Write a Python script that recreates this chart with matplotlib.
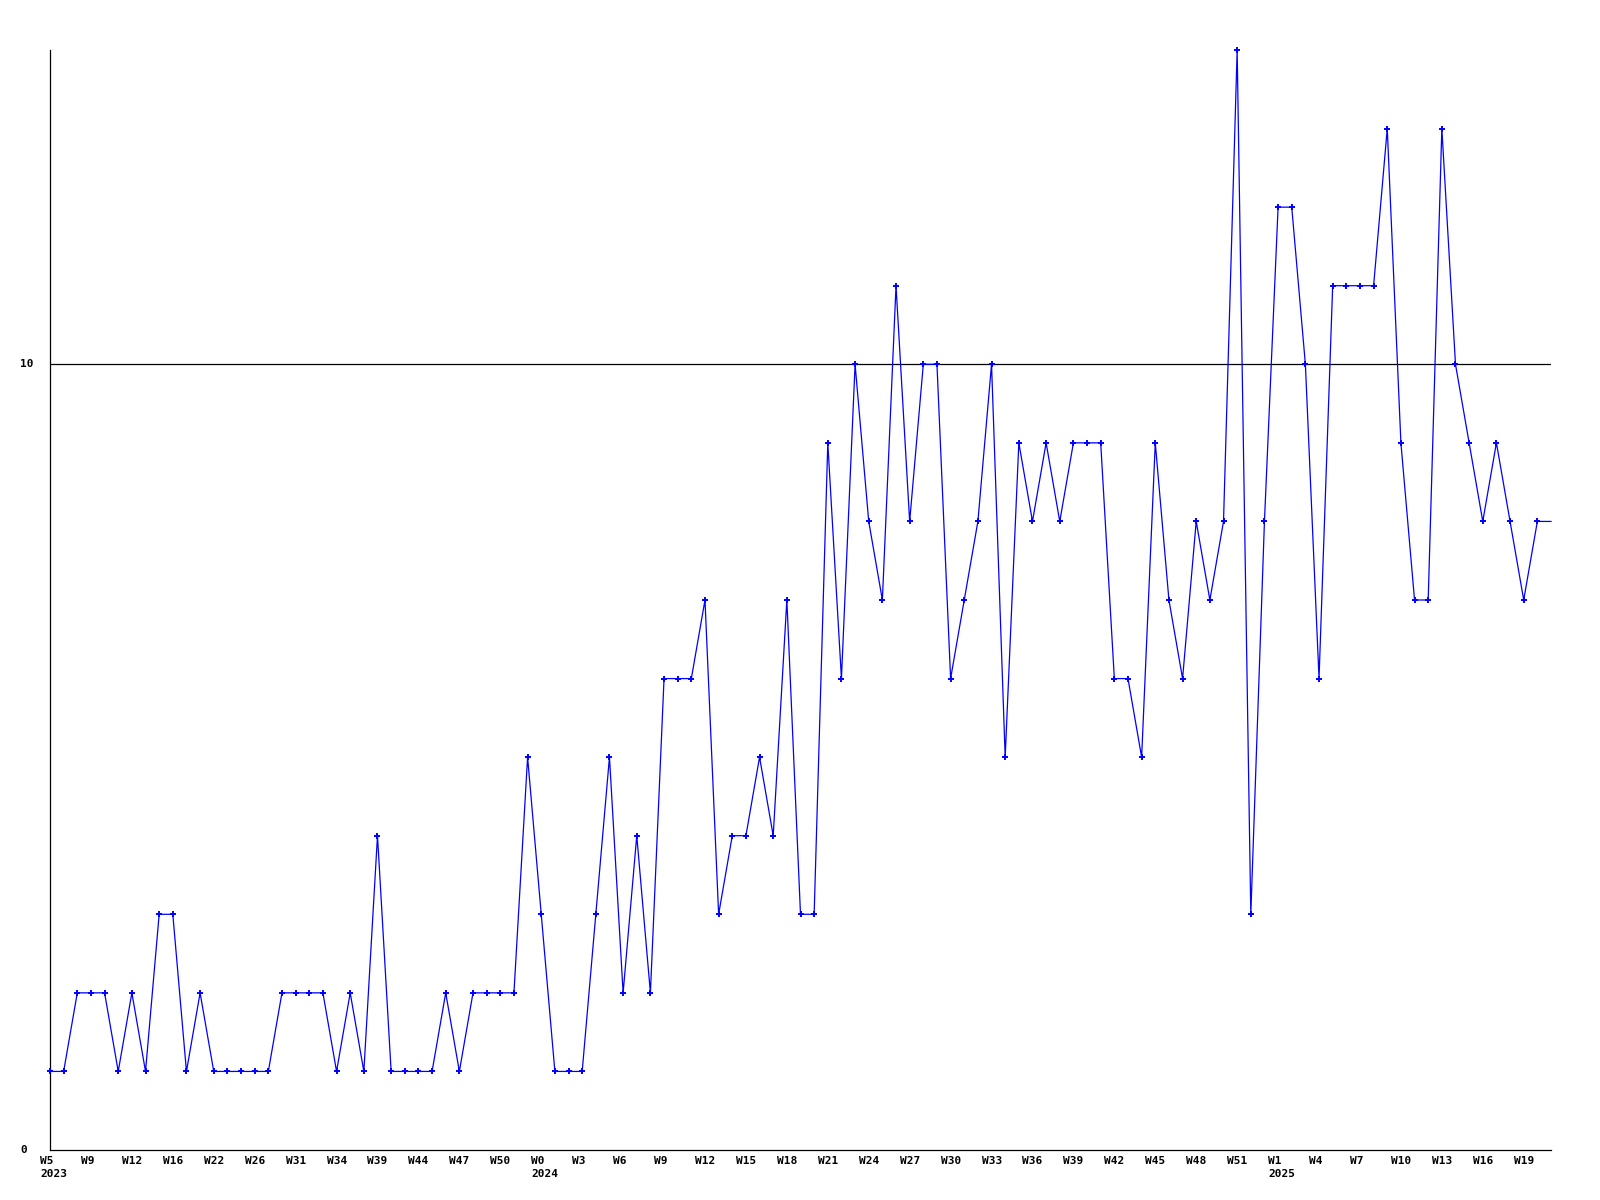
import matplotlib
matplotlib.use("Agg")
import matplotlib.pyplot as plt
from matplotlib.transforms import ScaledTranslation

values = [1, 1, 2, 2, 2, 1, 2, 1, 3, 3,
          1, 2, 1, 1, 1, 1, 1, 2, 2, 2,
          2, 1, 2, 1, 4, 1, 1, 1, 1, 2,
          1, 2, 2, 2, 2, 5, 3, 1, 1, 1,
          3, 5, 2, 4, 2, 6, 6, 6, 7, 3,
          4, 4, 5, 4, 7, 3, 3, 9, 6, 10,
          8, 7, 11, 8, 10, 10, 6, 7, 8, 10,
          5, 9, 8, 9, 8, 9, 9, 9, 6, 6,
          5, 9, 7, 6, 8, 7, 8, 14, 3, 8,
          12, 12, 10, 6, 11, 11, 11, 11, 13, 9,
          7, 7, 13, 10, 9, 8, 9, 8, 7, 8,
          8]

tick_labels = ["W5\n2023", "W9", "W12", "W16", "W22", "W26", "W31", "W34", "W39",
               "W44", "W47", "W50", "W0\n2024", "W3", "W6", "W9", "W12", "W15",
               "W18", "W21", "W24", "W27", "W30", "W33", "W36", "W39", "W42",
               "W45", "W48", "W51", "W1\n2025", "W4", "W7", "W10", "W13", "W16",
               "W19"]
tick_step = 3
y_ticks = [0, 10]
y_tick_labels = ["0", "10"]

W, H = 1600, 1200
fig = plt.figure(figsize=(16, 12), dpi=100)
ax = fig.add_axes([50 / W, 50 / H, 1501 / W, 1100 / H])

x = list(range(len(values)))
ax.axhline(10, color="black", lw=0.9, zorder=1)
ax.plot(x, values, color="#0000ff", lw=0.9, marker="+", ms=4.5, mew=1.4,
        markevery=slice(0, len(values) - 1), zorder=3, clip_on=False)

ax.set_xlim(0, len(values) - 1)
ax.set_ylim(0, 14)

for s in ["top", "right"]:
    ax.spines[s].set_visible(False)
for s in ["left", "bottom"]:
    ax.spines[s].set_linewidth(0.9)
    ax.spines[s].set_color("black")

font = dict(family="DejaVu Sans Mono", weight="bold", size=8)

ax.set_xticks([i * tick_step for i in range(len(tick_labels))])
ax.set_xticklabels(tick_labels, ha="left", va="top", multialignment="left",
                   linespacing=1.3, **font)
ax.tick_params(axis="x", length=0, pad=4.5)
off = ScaledTranslation(-10 / 100, 0, fig.dpi_scale_trans)
for lab in ax.get_xticklabels():
    lab.set_transform(lab.get_transform() + off)

ax.set_yticks(y_ticks)
ax.set_yticklabels(y_tick_labels, ha="left", va="center", **font)
ax.tick_params(axis="y", length=0, pad=21.6)

fig.savefig("out.png", dpi=100)
